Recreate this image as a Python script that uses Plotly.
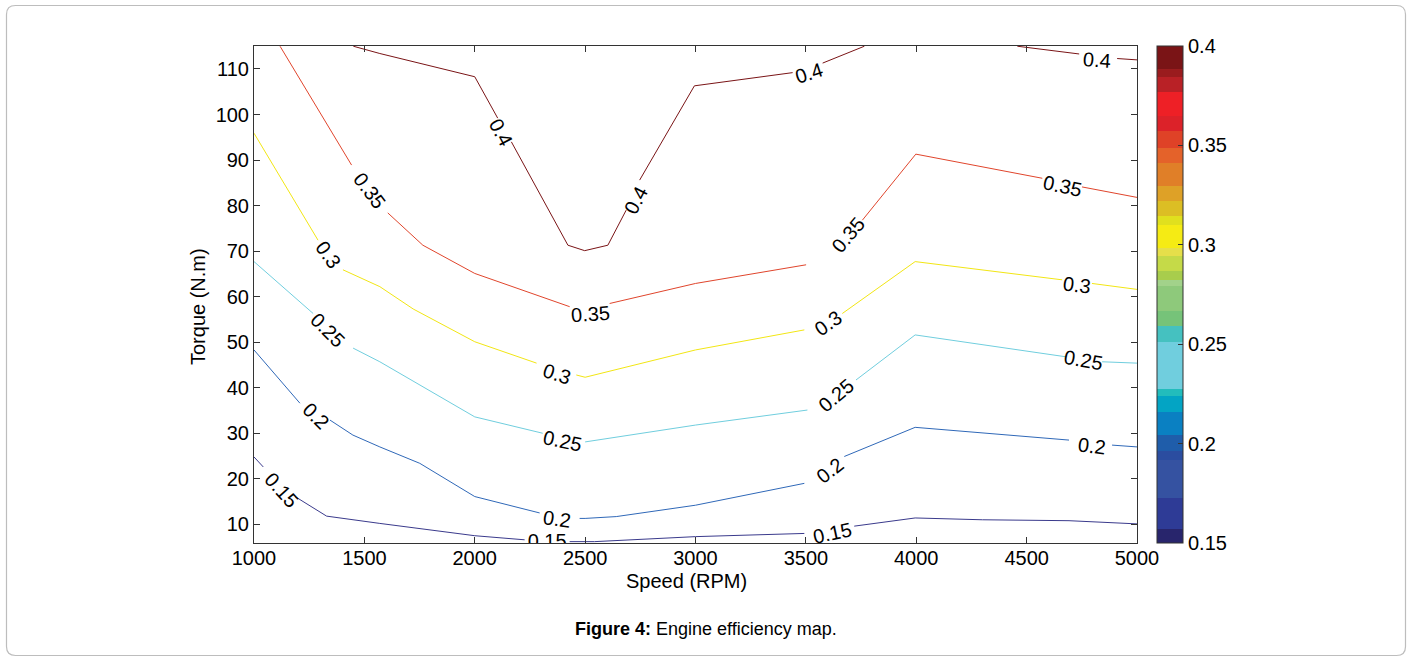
import plotly.graph_objects as go

# ---------------- data ----------------
levels = [0.15, 0.2, 0.25, 0.3, 0.35, 0.4]

# iso-efficiency lines: speed (RPM) / torque (N.m); None = gap for inline label
speed_015 = [1000, 1042, None, 1186, 1329, 1570, 2000, 2226, None, 2430, 2500, 2543, 3000, 3493, None, 3719, 3995, 4300, 4692, 5000]
torque_015 = [24.8, 22.6, None, 16.1, 11.8, 10.2, 7.5, 6.6, None, 6.2, 6.1, 6.2, 7.3, 8.0, None, 9.6, 11.4, 11.0, 10.8, 10.1]

speed_020 = [1000, 1208, None, 1344, 1448, 1570, 1751, 2000, 2294, None, 2475, 2500, 2641, 3000, 3493, None, 3674, 3995, 4692, None, 4887, 5000]
torque_020 = [48.3, 36.6, None, 32.9, 29.6, 27.0, 23.4, 16.1, 12.5, None, 11.3, 11.3, 11.7, 14.2, 19.0, None, 24.9, 31.3, 28.5, None, 27.4, 27.0]

speed_025 = [1000, 1268, None, 1449, 1570, 2000, 2308, None, 2500, 3000, 3507, None, 3727, 3995, 4677, None, 4842, 5000]
torque_025 = [67.7, 56.3, None, 48.7, 45.7, 33.6, 30.0, None, 28.1, 31.8, 35.1, None, 41.7, 51.6, 46.8, None, 45.7, 45.4]

speed_030 = [1000, 1290, None, 1403, 1570, 1721, 2000, 2280, None, 2460, 2500, 3000, 3493, None, 3665, 3995, 4661, None, 4796, 5000]
torque_030 = [95.9, 72.4, None, 65.9, 62.2, 57.3, 50.1, 45.4, None, 42.8, 42.3, 48.3, 52.7, None, 56.3, 67.7, 63.7, None, 62.9, 61.6]

speed_035 = [1118, 1284, 1442, None, 1606, 1765, 2000, 2430, None, 2611, 3000, 3501, None, 3756, 3998, 4571, None, 4751, 5000]
torque_035 = [115.0, 101.7, 88.9, None, 78.4, 71.3, 65.1, 57.8, None, 58.5, 62.9, 67.0, None, 76.8, 91.3, 86.0, None, 84.1, 81.8]

speed_040 = [1450, 1570, 2000, 2104, None, 2166, 2422, 2498, 2603, 2686, None, 2747, 2995, 3440, None, 3576, 3765, None, 4458, 4738, None, 4910, 5000]
torque_040 = [115.0, 113.4, 108.3, 99.2, None, 94.0, 71.3, 70.1, 71.3, 79.0, None, 85.6, 106.3, 109.2, None, 111.3, 115.0, None, 115.0, 113.3, None, 112.3, 112.0]

iso_speeds = [speed_015, speed_020, speed_025, speed_030, speed_035, speed_040]
iso_torques = [torque_015, torque_020, torque_025, torque_030, torque_035, torque_040]

# inline contour labels
label_text = ["0.15", "0.15",
              "0.2", "0.2", "0.2", "0.2",
              "0.25", "0.25", "0.25", "0.25",
              "0.3", "0.3", "0.3", "0.3",
              "0.35", "0.35", "0.35", "0.35",
              "0.4", "0.4", "0.4", "0.4"]
label_speed = [1124, 3621,
               1281, 2373, 3611, 4794,
               1333, 2398, 3640, 4756,
               1337, 2373, 3602, 4726,
               1525, 2525, 3692, 4661,
               2121, 2731, 3516, 4817]
label_torque = [17.5, 8.0,
                33.8, 11.2, 21.9, 27.1,
                52.6, 28.2, 38.3, 46.1,
                69.1, 43.0, 54.3, 62.6,
                83.2, 56.3, 73.5, 84.2,
                96.0, 81.2, 109.2, 111.9]
label_angle = [48, -12,
               45, 8, -38, 7,
               45, 12, -40, 10,
               55, 18, -35, 7,
               53, -4, -50, 12,
               62, -63, -18, 4]

# label partly clipped by the bottom axis
clipped_label_text = ["0.15"]
clipped_label_speed = [2328]
clipped_label_torque = [5.8]

x_ticks = [1000, 1500, 2000, 2500, 3000, 3500, 4000, 4500, 5000]
y_ticks = [10, 20, 30, 40, 50, 60, 70, 80, 90, 100, 110]
cbar_ticks = [0.15, 0.2, 0.25, 0.3, 0.35, 0.4]
cbar_ticktext = ["0.15", "0.2", "0.25", "0.3", "0.35", "0.4"]

# discrete colormap of the colour bar (edges bottom->top and band colours)
cb_edges = [0.15, 0.1570, 0.1726, 0.1919, 0.1961, 0.2041, 0.2157, 0.2238, 0.2276, 0.2512,
            0.2590, 0.2669, 0.2792, 0.2825, 0.2867, 0.2946, 0.2985, 0.3102, 0.3144, 0.3220,
            0.3295, 0.3413, 0.3488, 0.3572, 0.3648, 0.3768, 0.3846, 0.3883, 0.4]
cb_colors = ["#28256c", "#2e3b96", "#3552a1", "#2b4da0", "#1f5daa", "#0a80c2", "#03a4c4",
             "#22bcbc", "#70cede", "#45c1c0", "#76c379", "#8ec97b", "#a2d28a", "#a8cd4c",
             "#c5da48", "#e6df4a", "#f5eb14", "#e0e01e", "#dcbe24", "#dea127", "#e07f28",
             "#e4622a", "#df4227", "#dc2229", "#ee2026", "#b92126", "#9a1c1e", "#7a1416"]
line_colors = ["#3a3a8c", "#2f68b8", "#70cede", "#f2e614", "#e0452c", "#7a1416"]

# ---------------- layout geometry ----------------
W, H = 1413, 662
PL, PR, PT, PB = 254, 1137, 46, 543  # plot area in pixels
FONT = "Liberation Sans, Arial, Helvetica, sans-serif"

def px_x(px):
    return (px - PL) / (PR - PL)

def px_y(py):
    return (PB - py) / (PB - PT)

vmin, vmax = cb_edges[0], cb_edges[-1]
cscale = []
for i, c in enumerate(cb_colors):
    a = (cb_edges[i] - vmin) / (vmax - vmin)
    b = (cb_edges[i + 1] - vmin) / (vmax - vmin)
    cscale.append([a, c])
    cscale.append([b, c])

fig = go.Figure()

for lev, xs, ys, col in zip(levels, iso_speeds, iso_torques, line_colors):
    fig.add_trace(go.Scatter(x=xs, y=ys, mode="lines", line=dict(color=col, width=1),
                             connectgaps=False, hoverinfo="skip", showlegend=False,
                             name=str(lev)))

fig.add_trace(go.Scatter(x=clipped_label_speed, y=clipped_label_torque, mode="text",
                         text=clipped_label_text, textposition="middle center",
                         textfont=dict(family=FONT, size=20, color="black"),
                         cliponaxis=True, hoverinfo="skip", showlegend=False))

# colour bar holder
fig.add_trace(go.Scatter(
    x=[x_ticks[0]], y=[y_ticks[0]], mode="markers",
    marker=dict(size=1, opacity=0, color=[vmin], cmin=vmin, cmax=vmax, colorscale=cscale,
                showscale=True,
                colorbar=dict(x=px_x(1157), xanchor="left", y=0.5, yanchor="middle",
                              len=1, lenmode="fraction", thickness=26, thicknessmode="pixels",
                              xpad=0, ypad=0, outlinewidth=1, outlinecolor="#333333",
                              tickvals=cbar_ticks, ticktext=cbar_ticktext,
                              ticks="inside", ticklen=5, tickcolor="#333333",
                              tickfont=dict(family=FONT, size=20, color="black"))),
    hoverinfo="skip", showlegend=False))

annotations = []
for t, sx, ty, ang in zip(label_text, label_speed, label_torque, label_angle):
    annotations.append(dict(x=sx, y=ty, xref="x", yref="y", text=t, showarrow=False,
                            textangle=ang, xanchor="center", yanchor="middle",
                            font=dict(family=FONT, size=20, color="black")))

# axis titles
annotations.append(dict(x=px_x(686), y=px_y(581), xref="paper", yref="paper",
                        text="Speed (RPM)", showarrow=False, xanchor="center", yanchor="middle",
                        font=dict(family=FONT, size=20, color="black")))
annotations.append(dict(x=px_x(198), y=px_y(307), xref="paper", yref="paper",
                        text="Torque (N.m)", showarrow=False, textangle=-90,
                        xanchor="center", yanchor="middle",
                        font=dict(family=FONT, size=20, color="black")))

annotations.append(dict(x=px_x(706), y=px_y(629), xref="paper", yref="paper",
                        text="<b>Figure 4:</b> Engine efficiency map.", showarrow=False,
                        xanchor="center", yanchor="middle",
                        font=dict(family=FONT, size=18, color="black")))

# rounded outer frame
bx0, by0, bx1, by1, rr = 6.5, 5.5, 1405.5, 655.5, 9
def P(px, py):
    return f"{px_x(px):.6f},{px_y(py):.6f}"
frame_path = (f"M {P(bx0 + rr, by0)} L {P(bx1 - rr, by0)} Q {P(bx1, by0)} {P(bx1, by0 + rr)} "
              f"L {P(bx1, by1 - rr)} Q {P(bx1, by1)} {P(bx1 - rr, by1)} "
              f"L {P(bx0 + rr, by1)} Q {P(bx0, by1)} {P(bx0, by1 - rr)} "
              f"L {P(bx0, by0 + rr)} Q {P(bx0, by0)} {P(bx0 + rr, by0)} Z")

fig.update_layout(
    width=W, height=H,
    margin=dict(l=PL, r=W - PR, t=PT, b=H - PB, pad=0),
    paper_bgcolor="white", plot_bgcolor="white",
    font=dict(family=FONT, size=20, color="black"),
    hovermode=False,
    annotations=annotations,
    shapes=[dict(type="path", path=frame_path, xref="paper", yref="paper",
                 line=dict(color="#bdbdbd", width=1.2), layer="below")],
    xaxis=dict(range=[1000, 5000], tickvals=x_ticks, ticktext=[str(v) for v in x_ticks],
               ticks="inside", ticklen=6, tickwidth=1, tickcolor="#333333",
               showline=True, linecolor="#333333", linewidth=1, mirror="allticks",
               showgrid=False, zeroline=False, ticklabelstandoff=-3,
               tickfont=dict(family=FONT, size=20, color="black")),
    yaxis=dict(range=[5.9, 115.05], tickvals=y_ticks, ticktext=[str(v) for v in y_ticks],
               ticks="inside", ticklen=6, tickwidth=1, tickcolor="#333333",
               showline=True, linecolor="#333333", linewidth=1, mirror="allticks",
               showgrid=False, zeroline=False,
               tickfont=dict(family=FONT, size=20, color="black")),
)

fig.write_html("out.html", config={"displayModeBar": False},
               post_script="document.body.style.margin='0px';")
